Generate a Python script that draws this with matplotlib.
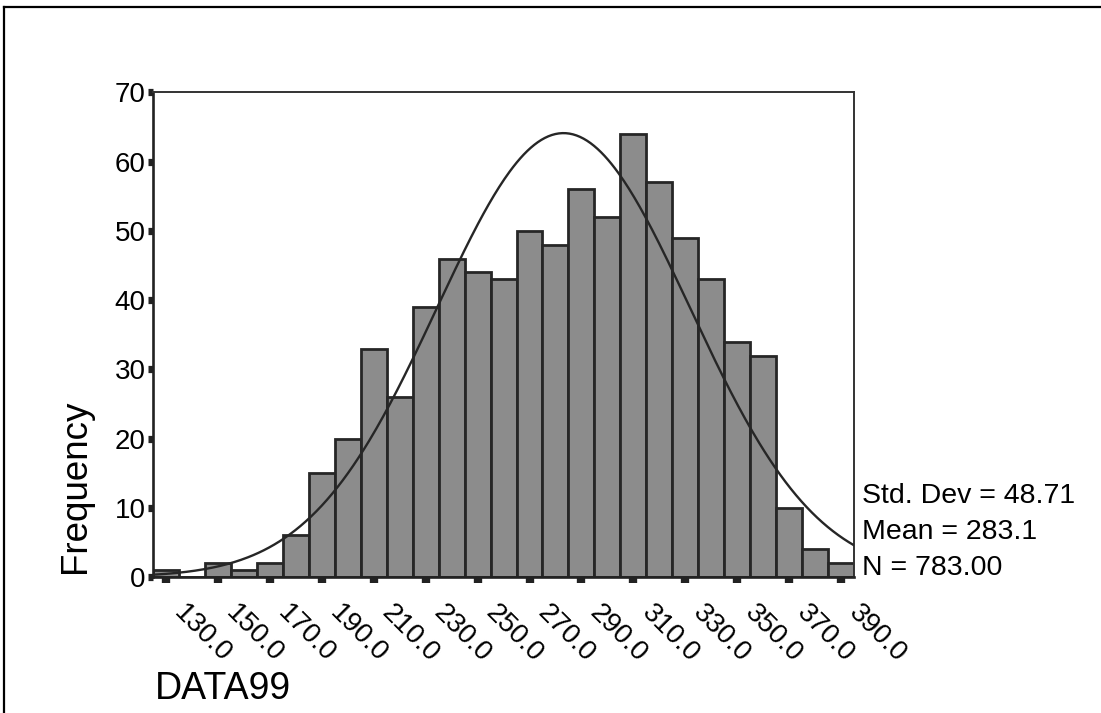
import numpy as np
import matplotlib.pyplot as plt
from matplotlib.lines import Line2D
from matplotlib.transforms import ScaledTranslation

plt.rcParams['font.family'] = ['Liberation Sans', 'DejaVu Sans']

# Histogram of DATA99: bins of width 10 centred on 130 ... 390
bin_centers = np.arange(130, 391, 10)
counts = [1, 0, 2, 1, 2, 6, 15, 20, 33, 26, 39, 46, 44, 43, 50,
          48, 56, 52, 64, 57, 49, 43, 34, 32, 10, 4, 2]
tick_values = np.arange(130, 391, 20)
tick_labels = ['%.1f' % v for v in tick_values]

std_dev = 48.71
mean = 283.1
n_total = 783
bin_width = 10

fig = plt.figure(figsize=(11.01, 7.13), dpi=100)
ax = fig.add_axes([0.139, 0.1907, 0.6367, 0.6796])

ax.bar(bin_centers, counts, width=bin_width, color='#8c8c8c',
       edgecolor='#262626', linewidth=2.0, zorder=2)

# normal curve for the same mean / sd, scaled to counts
xs = np.linspace(125, 395, 400)
ys = n_total * bin_width / (std_dev * np.sqrt(2 * np.pi)) * np.exp(-0.5 * ((xs - mean) / std_dev) ** 2)
ax.plot(xs, ys, color='#262626', linewidth=1.7, zorder=3)

ax.set_xlim(125, 395)
ax.set_ylim(0, 70)
ax.set_yticks(range(0, 71, 10))
ax.set_xticks(tick_values)
ax.set_xticklabels(tick_labels, rotation=-45, ha='left', va='center',
                   rotation_mode='anchor', fontsize=20)
ax.tick_params(axis='y', labelsize=20, length=3.8, width=5.2, color='#222222', pad=1.5)
ax.tick_params(axis='x', length=4.3, width=6, color='#222222', pad=19)

# shift the slanted labels a little to the right of their ticks
offset = ScaledTranslation(0.12, 0, fig.dpi_scale_trans)
for lbl in ax.get_xticklabels():
    lbl.set_transform(lbl.get_transform() + offset)

for side in ['left', 'bottom']:
    ax.spines[side].set_linewidth(1.9)
    ax.spines[side].set_color('#222222')
for side in ['top', 'right']:
    ax.spines[side].set_linewidth(1.4)
    ax.spines[side].set_color('#333333')

fig.text(0.0685, 0.318, 'Frequency', rotation=90, ha='center', va='center', fontsize=26.5)
fig.text(0.141, 0.019, 'DATA99', ha='left', va='baseline', fontsize=27)

fig.text(0.783, 0.2945, 'Std. Dev = 48.71', ha='left', va='baseline', fontsize=20.5)
fig.text(0.783, 0.244, 'Mean = 283.1', ha='left', va='baseline', fontsize=20.5)
fig.text(0.783, 0.1935, 'N = 783.00', ha='left', va='baseline', fontsize=20.5)

# outer frame (top and left edges)
fig.add_artist(Line2D([0.004, 1.0], [0.990, 0.990], color='black', linewidth=1.6))
fig.add_artist(Line2D([0.004, 0.004], [0.0, 0.990], color='black', linewidth=1.6))

fig.savefig('out.png', dpi=100)
